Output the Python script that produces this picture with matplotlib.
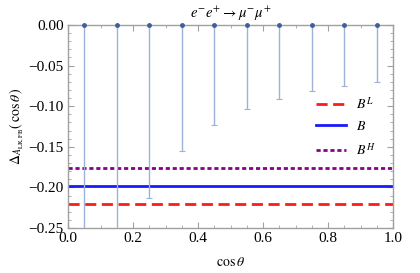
import matplotlib as mpl
mpl.use('Agg')
import matplotlib.pyplot as plt
from matplotlib.ticker import MultipleLocator
import numpy as np

# bin centres and lower end of each error bar (upper end sits at 0)
cos_bins = [0.05, 0.15, 0.25, 0.35, 0.45, 0.55, 0.65, 0.75, 0.85, 0.95]
bar_low = [-0.30, -0.30, -0.213, -0.155, -0.123, -0.103, -0.091, -0.081, -0.0755, -0.070]
central = [0.0] * len(cos_bins)

# benchmark levels
B_L = -0.221
B = -0.198
B_H = -0.176

plt.rcParams['font.family'] = ['Liberation Serif', 'DejaVu Serif']
plt.rcParams['mathtext.fontset'] = 'stix'

fig = plt.figure(figsize=(4.2, 2.73), dpi=100)
ax = fig.add_axes([68 / 420, 1 - 228 / 273, (393 - 68) / 420, (228 - 25) / 273])

yerr_low = [c - lo for c, lo in zip(central, bar_low)]
ax.errorbar(cos_bins, central, yerr=[yerr_low, [0] * len(cos_bins)],
            fmt='none', ecolor='#9db2d6', elinewidth=1.0,
            capsize=2.5, capthick=0.8, zorder=3)
ax.plot(cos_bins, central, 'o', ms=2.5, color='#3f5f9a', clip_on=False, zorder=4)

ax.axhline(B_L, color='#ff1a1a', lw=2.0, ls=(0, (4, 2)), label='$B^L$')
ax.axhline(B, color='#1a1aff', lw=2.0, ls='-', label='$B$')
ax.axhline(B_H, color='#8b008b', lw=2.0, ls=(0, (1.5, 1)), label='$B^H$')

ax.set_xlim(0, 1)
ax.set_ylim(-0.25, 0)
ax.xaxis.set_major_locator(MultipleLocator(0.2))
ax.xaxis.set_minor_locator(MultipleLocator(0.05))
ax.yaxis.set_major_locator(MultipleLocator(0.05))
ax.yaxis.set_minor_locator(MultipleLocator(0.01))
ax.xaxis.set_major_formatter(mpl.ticker.FormatStrFormatter('%.1f'))
ax.yaxis.set_major_formatter(mpl.ticker.FuncFormatter(lambda v, p: ('%.2f' % v).replace('-', '\u2212')))

for s in ax.spines.values():
    s.set_color('#a0a0a0')
    s.set_linewidth(1.0)
ax.tick_params(which='both', direction='in', top=True, right=True, color='#a0a0a0', labelsize=11, pad=3)
ax.tick_params(which='major', length=4)
ax.tick_params(which='minor', length=2)

ax.set_title('$e^{-}e^{+}\\rightarrow\\mu^{-}\\mu^{+}$', fontsize=10.5, pad=5)
ax.set_xlabel('$\\cos\\theta$', fontsize=10, labelpad=8)
ax.set_ylabel('$\\Delta_{A_{\\rm LR,FB}}(\\,\\cos\\theta\\,)$', fontsize=10, labelpad=2)

ax.legend(loc='upper right', bbox_to_anchor=(0.985, 0.715), frameon=False, fontsize=10,
          handlelength=2.2, labelspacing=0.6, handletextpad=0.7)

plt.savefig('out.png', dpi=100)
